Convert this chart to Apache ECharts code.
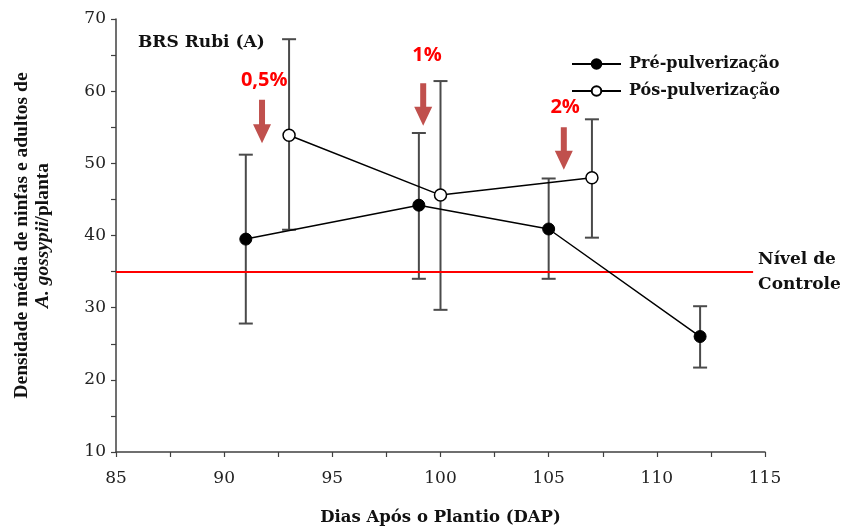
<!DOCTYPE html>
<html>
<head>
<meta charset="utf-8">
<script src="https://cdn.jsdelivr.net/npm/echarts@6/dist/echarts.min.js"></script>
<style>html,body{margin:0;padding:0;background:#fff}#c{width:844px;height:531px}</style>
</head>
<body>
<div id="c"></div>
<script>
// ---- data ----
const preX = [91, 99, 105, 112];
const preMean = [39.5, 44.2, 40.9, 26.0];
const preLow = [27.8, 34.0, 34.0, 21.7];
const preHigh = [51.2, 54.2, 47.9, 30.2];

const posX = [93, 100, 107];
const posMean = [53.9, 45.6, 48.0];
const posLow = [40.8, 29.7, 39.7];
const posHigh = [67.2, 61.4, 56.1];

const controlLevel = 35;
const controlLineEnd = 114.45;

const doseLabels = ['0,5%', '1%', '2%'];
const arrowX = [91.75, 99.2, 105.7];
const arrowTop = [58.8, 61.1, 55.0];
const arrowTip = [52.8, 55.2, 49.1];
const doseLabelX = [91.85, 99.38, 105.76];
const doseLabelY = [61.55, 65.0, 57.8];

const seriesNames = ['Pré-pulverização', 'Pós-pulverização'];
const xTicks = [85, 115, 5];
const yTicks = [10, 70, 10];

// ---- chart ----
const chart = echarts.init(document.getElementById('c'), null, {renderer: 'canvas'});
const serifW = 'DejaVu Serif';
const axisColor = '#404040';

function errRender(params, api) {
  const x = api.value(0);
  const lo = api.coord([x, api.value(1)]);
  const hi = api.coord([x, api.value(2)]);
  const w = 7;
  const st = {stroke: '#4a4a4a', lineWidth: 2};
  return {type: 'group', children: [
    {type: 'line', shape: {x1: lo[0], y1: lo[1], x2: hi[0], y2: hi[1]}, style: st},
    {type: 'line', shape: {x1: lo[0] - w, y1: lo[1], x2: lo[0] + w, y2: lo[1]}, style: st},
    {type: 'line', shape: {x1: hi[0] - w, y1: hi[1], x2: hi[0] + w, y2: hi[1]}, style: st}
  ]};
}

function arrowRender(params, api) {
  const x = api.value(0);
  const top = api.coord([x, api.value(1)]);
  const tip = api.coord([x, api.value(2)]);
  const lab = api.coord([api.value(3), api.value(4)]);
  const sw = 3, hw = 9, hh = 19;
  const cx = top[0];
  const pts = [
    [cx - sw, top[1]], [cx + sw, top[1]], [cx + sw, tip[1] - hh], [cx + hw, tip[1] - hh],
    [cx, tip[1]], [cx - hw, tip[1] - hh], [cx - sw, tip[1] - hh]
  ];
  return {type: 'group', children: [
    {type: 'polygon', shape: {points: pts}, style: {fill: '#c0504d'}},
    {type: 'text', x: lab[0], y: lab[1], style: {
      text: doseLabels[params.dataIndex], fill: '#ff0000', fontFamily: 'Open Sans',
      fontWeight: 'bold', fontSize: 20, align: 'center', verticalAlign: 'middle'}}
  ]};
}

const option = {
  animation: false,
  backgroundColor: '#fff',
  title: {
    text: 'BRS Rubi (A)', left: 133, top: 29,
    textStyle: {fontFamily: serifW, fontWeight: 'bold', fontSize: 17, color: '#111'}
  },
  legend: {
    data: seriesNames, orient: 'vertical', left: 566, top: 51,
    itemWidth: 49, itemHeight: 12, itemGap: 11,
    textStyle: {fontFamily: serifW, fontWeight: 'bold', fontSize: 16, color: '#111', padding: [0, 0, 0, 3]}
  },
  grid: {left: 116, right: 79, top: 19, bottom: 79, containLabel: false},
  xAxis: {
    type: 'value', min: xTicks[0], max: xTicks[1], interval: xTicks[2],
    name: 'Dias Após o Plantio (DAP)', nameLocation: 'middle', nameGap: 57,
    nameTextStyle: {fontFamily: serifW, fontWeight: 'bold', fontSize: 16.5, color: '#111'},
    axisLine: {lineStyle: {color: axisColor, width: 1.5}},
    axisTick: {show: true, length: 5, lineStyle: {color: axisColor, width: 1.2}},
    minorTick: {show: true, splitNumber: 2, length: 5, lineStyle: {color: axisColor, width: 1.2}},
    axisLabel: {margin: 18, fontFamily: serifW, fontSize: 17, color: '#222'},
    splitLine: {show: false}
  },
  yAxis: {
    type: 'value', min: yTicks[0], max: yTicks[1], interval: yTicks[2],
    name: '{b|Densidade média de ninfas e adultos de}\n{i|A. gossypii}{b|/planta}',
    nameLocation: 'middle', nameGap: 63, nameRotate: 90,
    nameTextStyle: {
      align: 'center',
      rich: {
        b: {fontFamily: 'Liberation Serif', fontWeight: 'bold', fontSize: 19.5, lineHeight: 21, color: '#111'},
        i: {fontFamily: 'Liberation Serif', fontWeight: 'bold', fontStyle: 'italic', fontSize: 19.5, lineHeight: 21, color: '#111'}
      }
    },
    axisLine: {show: true, lineStyle: {color: axisColor, width: 1.5}},
    axisTick: {show: true, length: 5, lineStyle: {color: axisColor, width: 1.2}},
    minorTick: {show: true, splitNumber: 2, length: 5, lineStyle: {color: axisColor, width: 1.2}},
    axisLabel: {margin: 10, fontFamily: serifW, fontSize: 17, color: '#222'},
    splitLine: {show: false}
  },
  series: [
    {
      type: 'custom', name: 'errPre', renderItem: errRender, silent: true, z: 1,
      encode: {x: 0, y: [1, 2]},
      data: preX.map((x, i) => [x, preLow[i], preHigh[i]])
    },
    {
      type: 'custom', name: 'errPos', renderItem: errRender, silent: true, z: 1,
      encode: {x: 0, y: [1, 2]},
      data: posX.map((x, i) => [x, posLow[i], posHigh[i]])
    },
    {
      type: 'line', name: seriesNames[0], z: 5,
      data: preX.map((x, i) => [x, preMean[i]]),
      symbol: 'circle', symbolSize: 12, showAllSymbol: true,
      itemStyle: {color: '#000', borderColor: '#000', borderWidth: 1},
      lineStyle: {color: '#000', width: 1.5},
      markLine: {
        silent: true, symbol: ['none', 'none'],
        lineStyle: {color: '#ff0000', width: 2, type: 'solid'},
        label: {
          show: true, position: 'end', distance: 5, formatter: 'Nível de\nControle',
          fontFamily: serifW, fontWeight: 'bold', fontSize: 17, lineHeight: 25, color: '#111', align: 'left'
        },
        data: [[{coord: [xTicks[0], controlLevel]}, {coord: [controlLineEnd, controlLevel]}]]
      }
    },
    {
      type: 'line', name: seriesNames[1], z: 5,
      data: posX.map((x, i) => [x, posMean[i]]),
      symbol: 'circle', symbolSize: 12, showAllSymbol: true,
      itemStyle: {color: '#fff', borderColor: '#000', borderWidth: 1.5},
      lineStyle: {color: '#000', width: 1.5}
    },
    {
      type: 'custom', name: 'arrows', renderItem: arrowRender, silent: true, z: 6,
      encode: {x: 0, y: [1, 2]},
      data: arrowX.map((x, i) => [x, arrowTop[i], arrowTip[i], doseLabelX[i], doseLabelY[i]])
    }
  ]
};
chart.setOption(option);
</script>
</body>
</html>
